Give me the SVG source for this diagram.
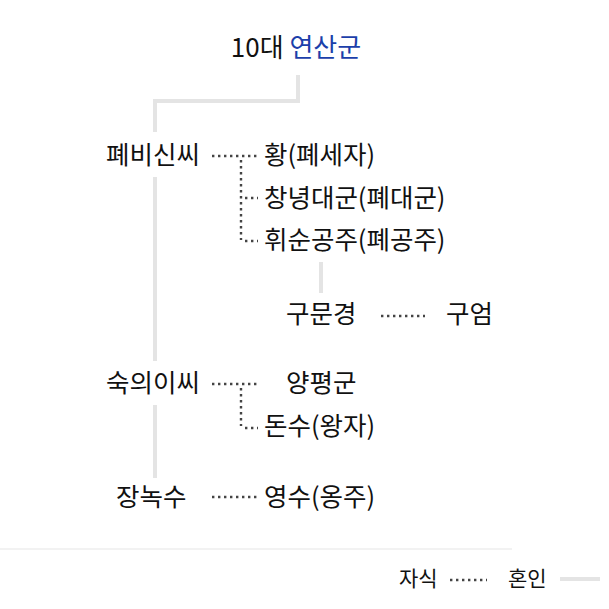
<svg xmlns="http://www.w3.org/2000/svg" width="609" height="609" viewBox="0 0 609 609">
<style>
text{font-family:"Noto Sans CJK KR","Noto Sans",sans-serif;fill:#111;dominant-baseline:central}
.t{font-size:25.5px}
.title{font-size:26px}
.lg{font-size:21px}
.blue{fill:#1c3faa}
.solid{stroke:#e4e4e4;stroke-width:4;fill:none}
.dot{stroke:#444;stroke-width:2.4;stroke-dasharray:2.4 3.6;fill:none}
</style>
<rect width="609" height="609" fill="#fff"/>
<g id="connectors">
<polyline class="solid" points="298,75 298,101 155,101 155,132"/>
<line class="solid" x1="155" y1="177" x2="155" y2="361"/>
<line class="solid" x1="155" y1="405" x2="155" y2="478"/>
<line class="solid" x1="321" y1="262" x2="321" y2="293"/>
<line class="dot" x1="212" y1="156" x2="258" y2="156"/>
<line class="dot" x1="241" y1="160" x2="241" y2="240"/>
<line class="dot" x1="245" y1="198" x2="258" y2="198"/>
<line class="dot" x1="245" y1="241" x2="258" y2="241"/>
<line class="dot" x1="381" y1="316" x2="425" y2="316"/>
<line class="dot" x1="212" y1="384" x2="258" y2="384"/>
<line class="dot" x1="241" y1="388" x2="241" y2="426"/>
<line class="dot" x1="245" y1="428" x2="258" y2="428"/>
<line class="dot" x1="212" y1="497" x2="258" y2="497"/>
</g>
<g id="n-yeonsangun"><text class="title" x="296" y="45" text-anchor="middle">10대 <tspan class="blue">연산군</tspan></text></g>
<g id="n-pyebisinssi"><text class="t" x="106" y="152">폐비신씨</text></g>
<g id="n-hwang"><text class="t" x="264" y="152">황(폐세자)</text></g>
<g id="n-changnyeong"><text class="t" x="264" y="195">창녕대군(폐대군)</text></g>
<g id="n-hwisun"><text class="t" x="264" y="237">휘순공주(폐공주)</text></g>
<g id="n-gumungyeong"><text class="t" x="286" y="311">구문경</text></g>
<g id="n-gueom"><text class="t" x="446" y="311">구엄</text></g>
<g id="n-sukui"><text class="t" x="106" y="380">숙의이씨</text></g>
<g id="n-yangpyeong"><text class="t" x="286" y="380">양평군</text></g>
<g id="n-donsu"><text class="t" x="264" y="423">돈수(왕자)</text></g>
<g id="n-jangnoksu"><text class="t" x="116" y="494">장녹수</text></g>
<g id="n-yeongsu"><text class="t" x="264" y="494">영수(옹주)</text></g>
<g id="legend">
<line x1="0" y1="549" x2="512" y2="549" stroke="#eeeeee" stroke-width="1.5"/>
<text class="lg" x="399" y="577">자식</text>
<line class="dot" x1="450" y1="580" x2="487" y2="580"/>
<text class="lg" x="508" y="577">혼인</text>
<line class="solid" x1="560" y1="579" x2="600" y2="579" stroke-width="3"/>
</g>
</svg>
